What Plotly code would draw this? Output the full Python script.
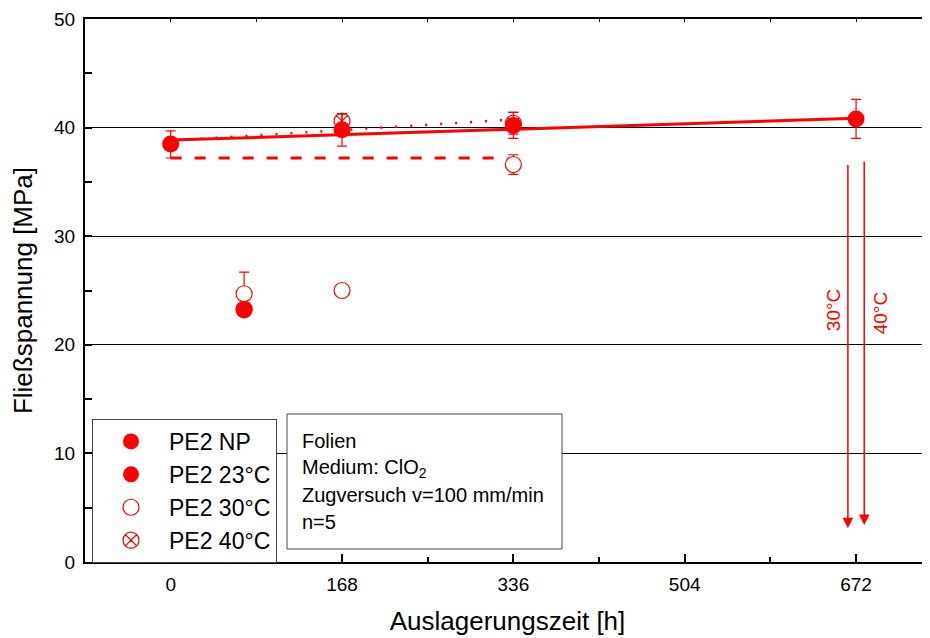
import plotly.graph_objects as go

# ---- data ----
np_x = [0]
np_y = [38.5]
np_err_p = [1.2]
np_err_m = [1.3]

t23_x = [72, 168, 336, 672]
t23_y = [23.2, 39.8, 40.2, 40.8]
t23_err = [0.3, 1.5, 1.2, 1.8]

t30_x = [72, 168, 336]
t30_y = [24.7, 25.0, 36.6]
t30_err = [2.0, 0.4, 0.9]

t40_x = [72, 168, 336]
t40_y = [23.3, 40.6, 40.4]
t40_err = [0.3, 0.65, 1.0]

fit23_x = [0, 672]
fit23_y = [38.85, 40.85]
fit40_x = [0, 336]
fit40_y = [38.8, 40.75]
fit30_x = [0, 330]
fit30_y = [37.2, 37.2]

x_ticks = [0, 168, 336, 504, 672]
y_ticks = [0, 10, 20, 30, 40, 50]

RED = "#ff0000"
FONT = "Liberation Sans, Arial, sans-serif"
X_RANGE = [-84, 744.5]

fig = go.Figure()

# fit lines
fig.add_trace(go.Scatter(x=fit23_x, y=fit23_y, mode="lines",
                         line=dict(color=RED, width=3), showlegend=False, hoverinfo="skip"))
fig.add_trace(go.Scatter(x=fit40_x, y=fit40_y, mode="lines",
                         line=dict(color=RED, width=2.5, dash="2px,13px"), showlegend=False, hoverinfo="skip"))
fig.add_trace(go.Scatter(x=fit30_x, y=fit30_y, mode="lines",
                         line=dict(color=RED, width=3, dash="11px,13px"), showlegend=False, hoverinfo="skip"))

def err(vals, minus=None):
    d = dict(type="data", array=vals, color=RED, thickness=1.2, width=5)
    if minus is not None:
        d["symmetric"] = False
        d["arrayminus"] = minus
    return d

fig.add_trace(go.Scatter(x=t40_x, y=t40_y, mode="markers", name="PE2 40°C", legendrank=4,
                         marker=dict(symbol="circle-x-open", size=16, color=RED, line=dict(width=1.2, color=RED)),
                         error_y=err(t40_err)))
fig.add_trace(go.Scatter(x=t30_x, y=t30_y, mode="markers", name="PE2 30°C", legendrank=3,
                         marker=dict(symbol="circle", size=16, color="white", line=dict(width=1.2, color=RED)),
                         error_y=err(t30_err)))
fig.add_trace(go.Scatter(x=t23_x, y=t23_y, mode="markers", name="PE2 23°C", legendrank=2,
                         marker=dict(symbol="circle", size=17, color=RED, line=dict(width=0)),
                         error_y=err(t23_err)))
fig.add_trace(go.Scatter(x=np_x, y=np_y, mode="markers", name="PE2 NP", legendrank=1,
                         marker=dict(symbol="circle", size=17, color=RED, line=dict(width=0)),
                         error_y=err(np_err_p, np_err_m)))

# invisible helper trace so the top (mirror) tick axis is drawn
fig.add_trace(go.Scatter(x=[None], y=[None], xaxis="x2", yaxis="y", mode="markers",
                         showlegend=False, hoverinfo="skip"))

# arrows for failed samples
arrows = [(664, "30°C", 36.7, 3.1, 649.5, 23.2), (680, "40°C", 37.0, 3.4, 695.5, 22.9)]
for xa, lab, y0, y1, tx, ty in arrows:
    fig.add_annotation(x=xa, y=y1, ax=xa, ay=y0, xref="x", yref="y", axref="x", ayref="y",
                       showarrow=True, arrowhead=2, arrowsize=1.4, arrowwidth=1.5, arrowcolor=RED,
                       text="", standoff=0)
    fig.add_annotation(x=tx, y=ty, xref="x", yref="y", text=lab, showarrow=False, textangle=-90,
                       font=dict(family=FONT, size=19, color=RED))

# page offset (body margin) compensation: plot area in page pixels
OFF = 8
L, R, T, B = 85, 930, 19, 562
def px(x):
    return (x - L) / (R - L)
def py(y):
    return (B - y) / (B - T)

fig.add_shape(type="rect", xref="paper", yref="paper", x0=px(287), x1=px(562), y0=py(549), y1=py(414),
              line=dict(color="#444444", width=1), fillcolor="white", layer="above")
box_lines = ["Folien", "Medium: ClO<sub>2</sub>", "Zugversuch v=100 mm/min", "n=5"]
box_y = [441, 468, 495, 522]
for t, yy in zip(box_lines, box_y):
    fig.add_annotation(x=px(300), y=py(yy), xref="paper", yref="paper", text=t, showarrow=False,
                       xanchor="left", yanchor="middle", font=dict(family=FONT, size=20, color="black"))

fig.update_layout(
    width=930, height=638,
    margin=dict(l=L - OFF, r=930 - (R - OFF), t=T - OFF, b=638 - (B - OFF), autoexpand=False),
    paper_bgcolor="white", plot_bgcolor="white",
    font=dict(family=FONT, color="black"),
    legend=dict(x=px(92), y=py(419), xanchor="left", yanchor="top",
                bgcolor="white", bordercolor="#444444", borderwidth=1,
                font=dict(family=FONT, size=23, color="black"), itemwidth=66,
                tracegroupgap=0),
    xaxis=dict(range=X_RANGE, tickvals=x_ticks, ticktext=[str(v) for v in x_ticks],
               automargin=False,
               showgrid=False, zeroline=False, showline=True, linecolor="black", linewidth=2,
               mirror=True, ticks="inside", ticklen=8, tickwidth=1.5, tickcolor="black",
               minor=dict(dtick=84, tick0=0, ticks="inside", ticklen=5, tickwidth=1.5, tickcolor="black"),
               tickfont=dict(family=FONT, size=19), ticklabelstandoff=4,
               title=dict(text="Auslagerungszeit [h]", font=dict(family=FONT, size=26), standoff=18)),
    xaxis2=dict(range=X_RANGE, overlaying="x", side="top", automargin=False, showgrid=False,
                zeroline=False, showline=False, showticklabels=False, tick0=0, dtick=84,
                ticks="inside", ticklen=3, tickwidth=1, tickcolor="black"),
    yaxis=dict(range=[0, 50], tickvals=y_ticks, showgrid=True, gridcolor="black", gridwidth=1,
               automargin=False,
               zeroline=False, showline=True, linecolor="black", linewidth=2, mirror=False,
               ticks="inside", ticklen=7, tickwidth=1.5, tickcolor="black",
               minor=dict(dtick=5, tick0=0, ticks="inside", ticklen=7, tickwidth=1.5, tickcolor="black", showgrid=False),
               tickfont=dict(family=FONT, size=19), ticklabelstandoff=4,
               title=dict(text="Fließspannung [MPa]", font=dict(family=FONT, size=26), standoff=14)),
)

fig.write_html("out.html")
